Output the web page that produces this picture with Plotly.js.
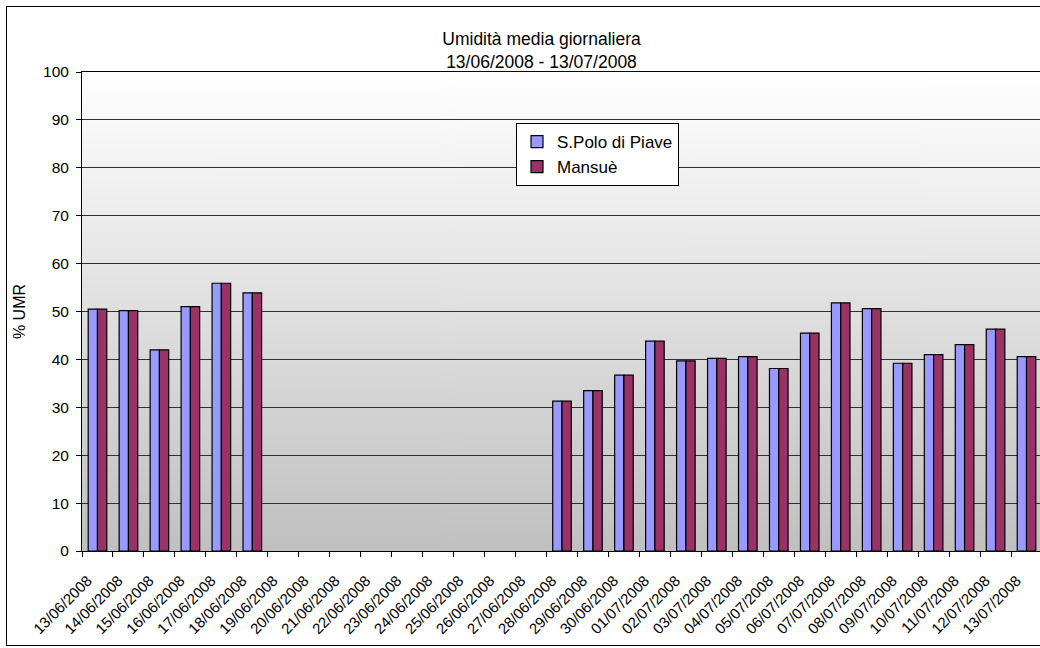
<!DOCTYPE html>
<html>
<head>
<meta charset="utf-8">
<script src="https://cdn.plot.ly/plotly-3.0.1.min.js"></script>
<style>
  html, body { margin: 0; padding: 0; background: #fff; overflow: hidden; }
  #wrap { position: relative; width: 1040px; height: 648px; overflow: hidden; }
  #chart { position: absolute; left: 0; top: 0; width: 1044px; height: 648px; }
  #frame { position: absolute; left: 6px; top: 6px; width: 1100px; height: 640px;
           border: 1px solid #000; pointer-events: none; box-sizing: border-box; }
</style>
</head>
<body>
<div id="wrap">
  <div id="chart"></div>
  <div id="frame"></div>
</div>
<script>
// Daily dates of the observation period
const days = [
  "13/06/2008","14/06/2008","15/06/2008","16/06/2008","17/06/2008","18/06/2008",
  "19/06/2008","20/06/2008","21/06/2008","22/06/2008","23/06/2008","24/06/2008",
  "25/06/2008","26/06/2008","27/06/2008","28/06/2008","29/06/2008","30/06/2008",
  "01/07/2008","02/07/2008","03/07/2008","04/07/2008","05/07/2008","06/07/2008",
  "07/07/2008","08/07/2008","09/07/2008","10/07/2008","11/07/2008","12/07/2008",
  "13/07/2008"
];

// Mean daily relative humidity (%), null where no data was recorded
const sPoloDiPiave = [
  50.5, 50.2, 42.0, 51.0, 55.9, 53.9,
  null, null, null, null, null, null, null, null, null,
  31.3, 33.5, 36.7, 43.8, 39.7, 40.2, 40.6, 38.1, 45.5,
  51.8, 50.6, 39.2, 41.0, 43.1, 46.3, 40.6
];
const mansue = [
  50.5, 50.2, 42.0, 51.0, 55.9, 53.9,
  null, null, null, null, null, null, null, null, null,
  31.3, 33.5, 36.7, 43.8, 39.7, 40.2, 40.6, 38.1, 45.5,
  51.8, 50.6, 39.2, 41.0, 43.1, 46.3, 40.6
];

const seriesNames = ["S.Polo di Piave", "Mansuè"];
const titleLines = ["Umidità media giornaliera", "13/06/2008 - 13/07/2008"];
const yTitle = "% UMR";

// Vertical white-to-grey gradient for the plotting area
function gradientURI() {
  const c = document.createElement("canvas");
  c.width = 4; c.height = 512;
  const g = c.getContext("2d");
  const lg = g.createLinearGradient(0, 0, 0, 512);
  lg.addColorStop(0, "#ffffff");
  lg.addColorStop(1, "#c0c0c0");
  g.fillStyle = lg;
  g.fillRect(0, 0, 4, 512);
  return c.toDataURL("image/png");
}

const FONT = "Liberation Sans, Arial, sans-serif";

const traces = [
  {
    type: "bar", name: seriesNames[0], x: days, y: sPoloDiPiave,
    marker: { color: "#9999ff", line: { color: "#000000", width: 1.2 } }
  },
  {
    type: "bar", name: seriesNames[1], x: days, y: mansue,
    marker: { color: "#993366", line: { color: "#000000", width: 1.2 } }
  }
];

const layout = {
  width: 1044, height: 648,
  margin: { l: 82, r: 2, t: 72, b: 97, pad: 0 },
  paper_bgcolor: "#ffffff",
  plot_bgcolor: "rgba(0,0,0,0)",
  font: { family: FONT, size: 15.5, color: "#000" },
  title: {
    text: titleLines.join("<br>"),
    font: { family: FONT, size: 17.5, color: "#000" },
    xref: "container", yref: "container",
    x: 541.5 / 1044, xanchor: "center",
    y: 1 - 45 / 648, yanchor: "middle"
  },
  barmode: "group",
  bargap: 0.4,
  bargroupgap: 0,
  showlegend: true,
  legend: {
    x: (516 - 82) / 960, xanchor: "left",
    y: (551 - 123) / 479, yanchor: "top",
    bgcolor: "#ffffff", bordercolor: "#000000", borderwidth: 1,
    font: { family: FONT, size: 17, color: "#000" },
    tracegroupgap: 0, itemwidth: 30
  },
  xaxis: {
    type: "category",
    tickson: "boundaries",
    ticks: "outside", ticklen: 5, tickcolor: "#000", tickwidth: 1,
    tickangle: -45,
    ticklabelstandoff: 14,
    ticklabelshift: -10,
    tickfont: { family: FONT, size: 15, color: "#000" },
    showline: true, linecolor: "#000", linewidth: 1, mirror: true,
    showgrid: false, zeroline: false,
    fixedrange: true
  },
  yaxis: {
    range: [0, 100], dtick: 10, tick0: 0,
    ticks: "outside", ticklen: 5, tickcolor: "#000", tickwidth: 1,
    ticklabelstandoff: 4,
    tickfont: { family: FONT, size: 15.5, color: "#000" },
    showline: true, linecolor: "#000", linewidth: 1,
    showgrid: true, gridcolor: "#303030", gridwidth: 1,
    zeroline: false,
    title: { text: yTitle, font: { family: FONT, size: 16, color: "#000" }, standoff: 13 },
    fixedrange: true
  },
  images: [{
    source: gradientURI(),
    xref: "paper", yref: "paper",
    x: 0, y: 1, sizex: 1, sizey: 1,
    xanchor: "left", yanchor: "top",
    sizing: "stretch", layer: "below"
  }]
};

Plotly.newPlot("chart", traces, layout, { displayModeBar: false, staticPlot: true });
</script>
</body>
</html>
